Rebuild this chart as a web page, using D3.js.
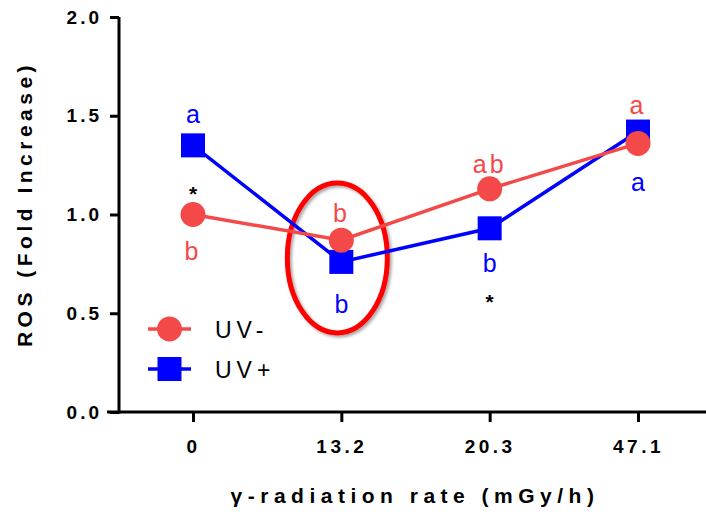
<!DOCTYPE html>
<html>
<head>
<meta charset="utf-8">
<script src="https://cdn.jsdelivr.net/npm/d3@7"></script>
<style>
  body { margin: 0; background: #fff; }
  svg { display: block; font-family: Arial, "Liberation Sans", sans-serif; }
</style>
</head>
<body>
<div id="chart"></div>
<script>
var categories = ["0", "13.2", "20.3", "47.1"];
var uvMinus = [1.00, 0.87, 1.13, 1.36];
var uvPlus = [1.35, 0.76, 0.93, 1.42];
var uvMinusLetters = ["b", "b", "ab", "a"];
var uvPlusLetters = ["a", "b", "b", "a"];
var yTicks = [0, 0.5, 1.0, 1.5, 2.0];
var starCategories = ["0", "20.3"];
var starValues = [1.12, 0.57];

var red = "#f54848", blue = "#0000ff";

var margin = { top: 17, right: 0, bottom: 100, left: 119 },
    width = 706 - margin.left - margin.right,
    height = 412 - margin.top;

var svg = d3.select("#chart").append("svg")
    .attr("width", 706)
    .attr("height", 512);

var defs = svg.append("defs");
var f = defs.append("filter").attr("id", "shadow")
    .attr("x", "-20%").attr("y", "-20%").attr("width", "140%").attr("height", "140%");
f.append("feDropShadow").attr("dx", 2).attr("dy", 2).attr("stdDeviation", 1.5)
    .attr("flood-color", "#000").attr("flood-opacity", 0.35);

var g = svg.append("g")
    .attr("transform", "translate(" + margin.left + "," + margin.top + ")");

var x = d3.scalePoint()
    .domain(categories)
    .range([74, 519]);

var y = d3.scaleLinear()
    .domain([0, 2])
    .range([height, 0]);

// y axis
var yAxis = g.append("g")
    .call(d3.axisLeft(y).tickValues(yTicks).tickFormat(d3.format(".1f")).tickSize(9).tickSizeOuter(0).tickPadding(8));
yAxis.select(".domain").attr("stroke-width", 3).attr("d", "M0," + (height + 1.5) + "V0");
yAxis.selectAll(".tick line").attr("stroke-width", 3);
yAxis.selectAll(".tick text")
    .attr("fill", "#000")
    .style("font-size", "19px")
    .style("font-weight", "bold")
    .style("letter-spacing", "3px");

// x axis
var xAxis = g.append("g")
    .attr("transform", "translate(0," + height + ")")
    .call(d3.axisBottom(x).tickSize(10).tickSizeOuter(0).tickPadding(18));
xAxis.select(".domain").attr("stroke-width", 3).attr("d", "M-12,0H" + width);
xAxis.selectAll(".tick line").attr("stroke-width", 3);
xAxis.selectAll(".tick text")
    .attr("fill", "#000")
    .style("font-size", "19px")
    .style("font-weight", "bold")
    .style("letter-spacing", "3.5px");

// axis titles
svg.append("text")
    .attr("transform", "translate(32,204) rotate(-90)")
    .attr("text-anchor", "middle")
    .style("font-size", "21px")
    .style("font-weight", "bold")
    .style("letter-spacing", "4.5px")
    .text("ROS (Fold Increase)");

svg.append("text")
    .attr("x", 415)
    .attr("y", 503)
    .attr("text-anchor", "middle")
    .style("font-size", "21px")
    .style("font-weight", "bold")
    .style("letter-spacing", "5.5px")
    .text("γ-radiation rate (mGy/h)");

// highlight ellipse around 13.2
g.append("ellipse")
    .attr("cx", x("13.2") - 4)
    .attr("cy", y(0.78))
    .attr("rx", 50)
    .attr("ry", 75)
    .attr("fill", "none")
    .attr("stroke", "#ff0000")
    .attr("stroke-width", 5)
    .attr("filter", "url(#shadow)");

var line = d3.line()
    .x(function (d, i) { return x(categories[i]); })
    .y(function (d) { return y(d); });

// UV+ series
g.append("path").datum(uvPlus)
    .attr("fill", "none").attr("stroke", blue).attr("stroke-width", 3.5)
    .attr("d", line);
g.selectAll(".sq").data(uvPlus).enter().append("rect")
    .attr("x", function (d, i) { return x(categories[i]) - 12; })
    .attr("y", function (d) { return y(d) - 12; })
    .attr("width", 24).attr("height", 24)
    .attr("fill", blue);

// UV- series
g.append("path").datum(uvMinus)
    .attr("fill", "none").attr("stroke", red).attr("stroke-width", 3.5)
    .attr("d", line);
g.selectAll(".ci").data(uvMinus).enter().append("circle")
    .attr("cx", function (d, i) { return x(categories[i]); })
    .attr("cy", function (d) { return y(d); })
    .attr("r", 12.5)
    .attr("fill", red);

// significance letters (baseline offsets from marker centre)
var minusDy = [45, -18, -16, -29];
var plusDy = [-22, 51, 44, 59];

g.selectAll(".lm").data(uvMinusLetters).enter().append("text")
    .attr("x", function (d, i) { return x(categories[i]); })
    .attr("y", function (d, i) { return y(uvMinus[i]) + minusDy[i]; })
    .attr("text-anchor", "middle")
    .attr("fill", red)
    .style("font-size", "25px")
    .style("letter-spacing", "3px")
    .text(function (d) { return d; });

g.selectAll(".lp").data(uvPlusLetters).enter().append("text")
    .attr("x", function (d, i) { return x(categories[i]); })
    .attr("y", function (d, i) { return y(uvPlus[i]) + plusDy[i]; })
    .attr("text-anchor", "middle")
    .attr("fill", blue)
    .style("font-size", "25px")
    .text(function (d) { return d; });

g.selectAll(".star").data(starValues).enter().append("text")
    .attr("x", function (d, i) { return x(starCategories[i]); })
    .attr("y", function (d) { return y(d) + 10; })
    .attr("text-anchor", "middle")
    .style("font-size", "21px")
    .style("font-weight", "bold")
    .text("*");

// legend
var legend = svg.append("g").attr("transform", "translate(148,329)");
legend.append("line").attr("x1", 0).attr("x2", 43).attr("y1", 0).attr("y2", 0)
    .attr("stroke", red).attr("stroke-width", 3.5);
legend.append("circle").attr("cx", 21.5).attr("cy", 0).attr("r", 12.5).attr("fill", red);
legend.append("text").attr("x", 67).attr("y", 9)
    .style("font-size", "23px").style("letter-spacing", "5px").text("UV-");

legend.append("line").attr("x1", 0).attr("x2", 43).attr("y1", 40).attr("y2", 40)
    .attr("stroke", blue).attr("stroke-width", 3.5);
legend.append("rect").attr("x", 9.5).attr("y", 28).attr("width", 24).attr("height", 24).attr("fill", blue);
legend.append("text").attr("x", 67).attr("y", 49)
    .style("font-size", "23px").style("letter-spacing", "5px").text("UV+");
</script>
</body>
</html>
